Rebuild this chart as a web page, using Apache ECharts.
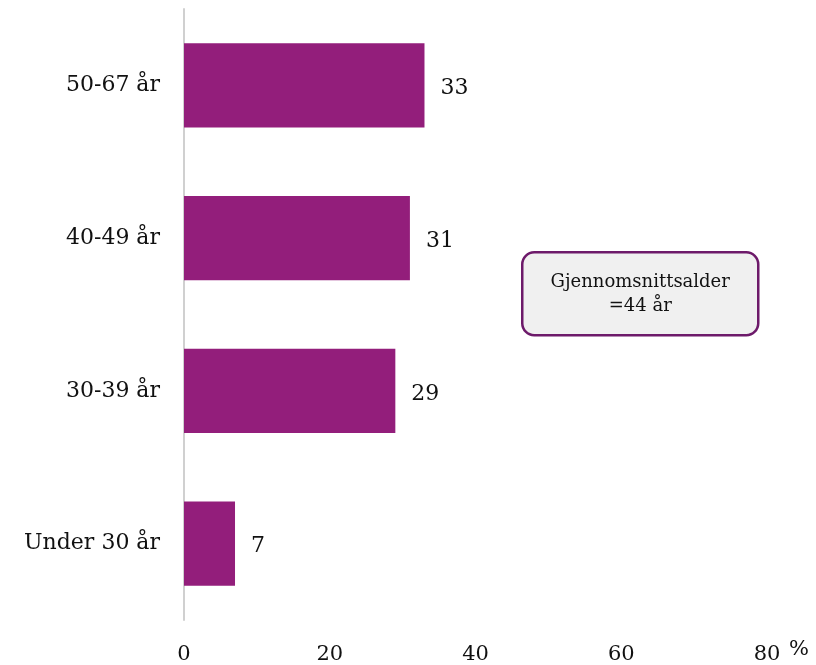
<!DOCTYPE html>
<html>
<head>
<meta charset="utf-8">
<script src="https://cdn.jsdelivr.net/npm/echarts@6/dist/echarts.min.js"></script>
<style>
html,body{margin:0;padding:0;background:#fff;}
#chart{width:816px;height:665px;}
</style>
</head>
<body>
<div id="chart"></div>
<script>
const categories = ['Under 30 år', '30-39 år', '40-49 år', '50-67 år'];
const values = [7, 29, 31, 33];
const xTicks = [0, 20, 40, 60, 80];
const unitLabel = '%';
const noteLines = ['Gjennomsnittsalder', '=44 år'];

const FONT = "Georgia, 'DejaVu Serif', serif";
const chart = echarts.init(document.getElementById('chart'), null, {renderer: 'canvas'});
const option = {
  animation: false,
  backgroundColor: '#ffffff',
  grid: {left: 184, right: 49, top: 9, bottom: 45, containLabel: false},
  xAxis: {
    type: 'value',
    min: xTicks[0],
    max: xTicks[xTicks.length - 1],
    interval: xTicks[1] - xTicks[0],
    axisLine: {show: false},
    axisTick: {show: false},
    splitLine: {show: false},
    axisLabel: {margin: 24, color: '#111', fontFamily: FONT, fontSize: 21}
  },
  yAxis: {
    type: 'category',
    data: categories,
    axisLine: {show: true, lineStyle: {color: '#d0d0d0', width: 2}},
    axisTick: {show: false},
    splitLine: {show: false},
    axisLabel: {margin: 24, color: '#111', fontFamily: FONT, fontSize: 22}
  },
  series: [{
    type: 'bar',
    data: values,
    barWidth: '55%',
    itemStyle: {color: '#931E7B'},
    label: {
      show: true,
      position: 'right',
      distance: 16,
      color: '#111',
      fontFamily: FONT,
      fontSize: 22,
      offset: [0, 3]
    }
  }]
};
chart.setOption(option);

const lastTick = xTicks[xTicks.length - 1];
const px = chart.convertToPixel({xAxisIndex: 0}, lastTick);
chart.setOption({
  graphic: [{
    type: 'text',
    x: px + 22,
    y: 660,
    style: {
      text: unitLabel,
      fontFamily: FONT,
      fontSize: 21,
      fill: '#111',
      align: 'left',
      verticalAlign: 'bottom'
    }
  }, {
    type: 'group',
    left: 521,
    top: 251,
    children: [{
      type: 'rect',
      shape: {x: 0, y: 0, width: 236, height: 83, r: 12},
      style: {fill: '#f0f0f0', stroke: '#6d1a6a', lineWidth: 2.5}
    }, {
      type: 'text',
      x: 118,
      y: 42,
      style: {
        text: noteLines.join('\n'),
        fontFamily: FONT,
        fontSize: 18,
        lineHeight: 24,
        fill: '#111',
        align: 'center',
        verticalAlign: 'middle'
      }
    }]
  }]
});
</script>
</body>
</html>
